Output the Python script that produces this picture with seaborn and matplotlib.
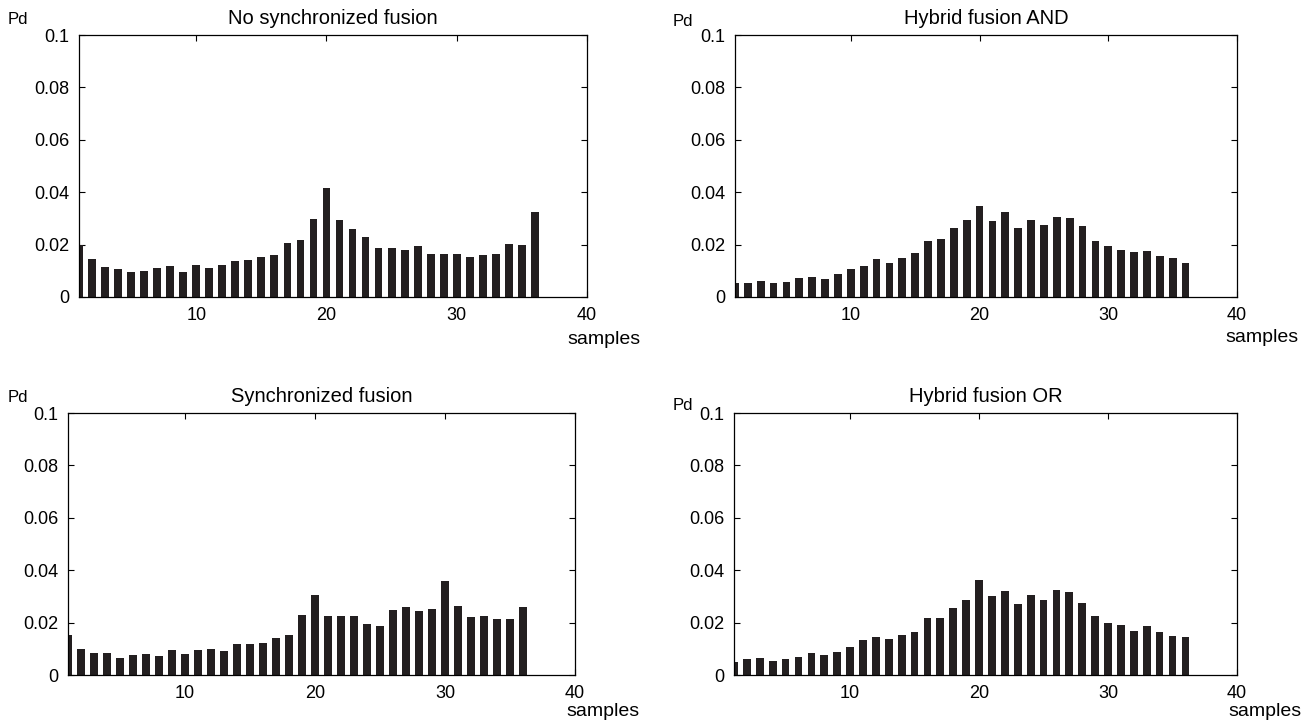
import numpy as np
import pandas as pd
import matplotlib
matplotlib.use("Agg")
import matplotlib.pyplot as plt
import seaborn as sns

sns.set_style("white")
plt.rcParams['font.family'] = ['Liberation Sans', 'DejaVu Sans']
plt.rcParams['text.color'] = 'black'
plt.rcParams['xtick.color'] = 'black'
plt.rcParams['ytick.color'] = 'black'

samples = list(range(1, 37))

no_sync = [0.0200, 0.0146, 0.0115, 0.0105, 0.0095, 0.0101, 0.0110, 0.0119, 0.0096, 0.0124,
           0.0112, 0.0123, 0.0136, 0.0141, 0.0151, 0.0162, 0.0205, 0.0218, 0.0296, 0.0415,
           0.0295, 0.0258, 0.0228, 0.0188, 0.0186, 0.0178, 0.0194, 0.0165, 0.0165, 0.0164,
           0.0154, 0.0160, 0.0165, 0.0203, 0.0199, 0.0323]

hyb_and = [0.0054, 0.0054, 0.0062, 0.0053, 0.0059, 0.0071, 0.0078, 0.0069, 0.0088, 0.0105,
           0.0119, 0.0146, 0.0129, 0.0150, 0.0168, 0.0215, 0.0223, 0.0262, 0.0295, 0.0346,
           0.0290, 0.0323, 0.0262, 0.0295, 0.0273, 0.0304, 0.0301, 0.0272, 0.0213, 0.0196,
           0.0179, 0.0171, 0.0177, 0.0158, 0.0149, 0.0128]

sync = [0.0154, 0.0099, 0.0085, 0.0085, 0.0064, 0.0076, 0.0081, 0.0071, 0.0096, 0.0081,
        0.0096, 0.0101, 0.0090, 0.0117, 0.0119, 0.0124, 0.0140, 0.0153, 0.0229, 0.0304,
        0.0227, 0.0227, 0.0226, 0.0195, 0.0187, 0.0247, 0.0258, 0.0244, 0.0253, 0.0358,
        0.0264, 0.0223, 0.0226, 0.0214, 0.0213, 0.0260]

hyb_or = [0.0050, 0.0060, 0.0064, 0.0055, 0.0060, 0.0068, 0.0083, 0.0077, 0.0088, 0.0108,
          0.0132, 0.0145, 0.0137, 0.0151, 0.0164, 0.0218, 0.0218, 0.0255, 0.0287, 0.0362,
          0.0301, 0.0321, 0.0272, 0.0306, 0.0286, 0.0323, 0.0318, 0.0276, 0.0227, 0.0200,
          0.0190, 0.0169, 0.0188, 0.0164, 0.0149, 0.0146]

titles = ["No synchronized fusion", "Hybrid fusion AND", "Synchronized fusion", "Hybrid fusion OR"]
series = [no_sync, hyb_and, sync, hyb_or]
xticks = [10, 20, 30, 40]
yticks = [0, 0.02, 0.04, 0.06, 0.08, 0.1]
ytick_labels = ["0", "0.02", "0.04", "0.06", "0.08", "0.1"]

W, H = 1314, 722
fig = plt.figure(figsize=(W / 100, H / 100), dpi=100)

# pixel boxes: left, right, top, bottom
boxes = [(79, 587, 35, 297), (735, 1237, 35, 297), (68, 575, 413, 675), (734, 1237, 413, 675)]
pd_pos = [(18, 20), (683, 22), (18, 397), (683, 405)]
samp_pos = [(604, 340), (1262, 337), (603, 711), (1265, 711)]
bar_color = "#231f20"
fs = 13

for i in range(4):
    l, r, t, b = boxes[i]
    ax = fig.add_axes([l / W, 1 - b / H, (r - l) / W, (b - t) / H])
    df = pd.DataFrame({"sample": samples, "Pd": series[i]})
    sns.barplot(data=df, x="sample", y="Pd", native_scale=True, width=0.6,
                color=bar_color, saturation=1, linewidth=0, ax=ax)
    ax.set_xlim(1, 40)
    ax.set_ylim(0, 0.1)
    ax.set_xticks(xticks)
    ax.set_xticklabels([str(v) for v in xticks], fontsize=fs)
    ax.set_yticks(yticks)
    ax.set_yticklabels(ytick_labels, fontsize=fs)
    ax.set_xlabel("")
    ax.set_ylabel("")
    ax.tick_params(direction="in", length=4, width=0.8, top=True, right=True,
                   bottom=True, left=True, colors="black", pad=7)
    for s in ax.spines.values():
        s.set_visible(True)
        s.set_color("black")
        s.set_linewidth(0.9)
    ax.set_title(titles[i], fontsize=14.5, pad=8, color="black")
    fig.text(pd_pos[i][0] / W, 1 - pd_pos[i][1] / H, "Pd", fontsize=12,
             ha="center", va="center")
    fig.text(samp_pos[i][0] / W, 1 - samp_pos[i][1] / H, "samples", fontsize=14,
             ha="center", va="center")

fig.savefig("out.png", dpi=100)
